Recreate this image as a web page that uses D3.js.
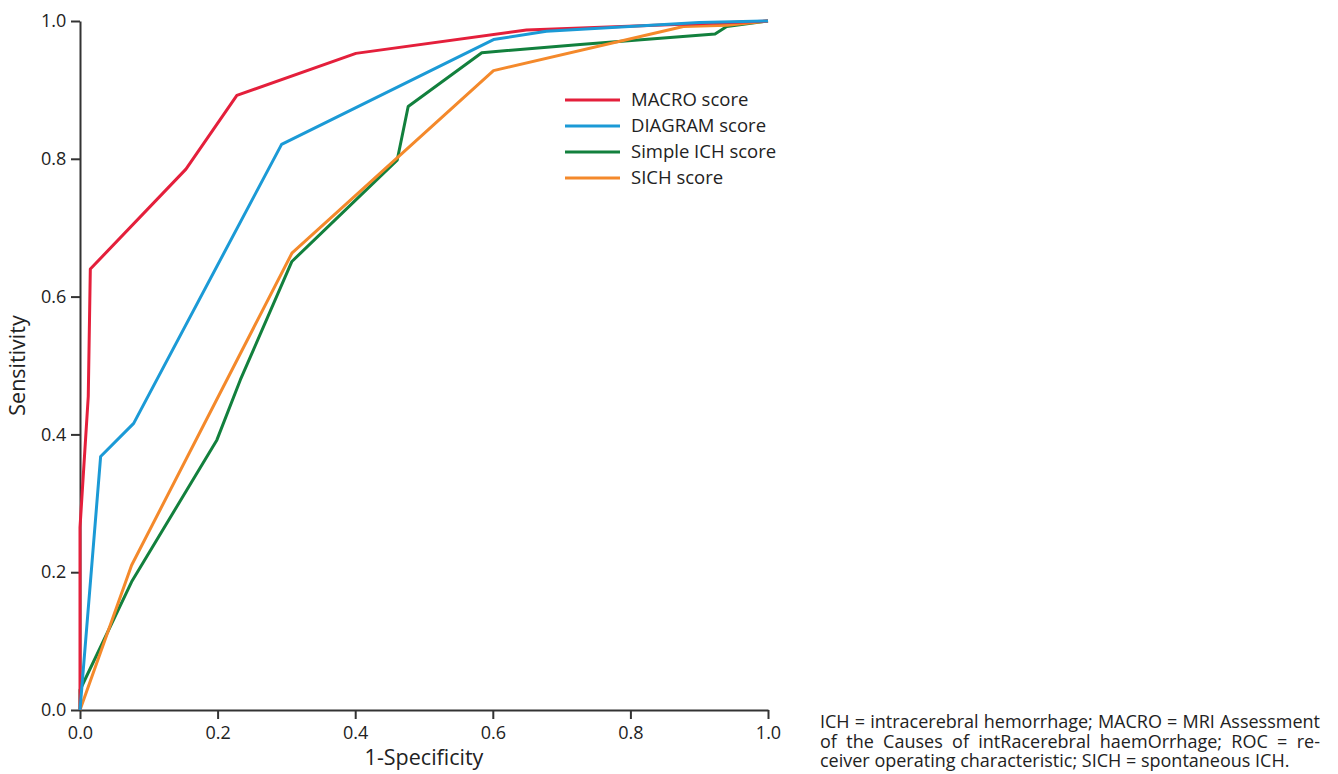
<!DOCTYPE html>
<html lang="en">
<head>
    <meta charset="UTF-8">
    <title>ROC curves</title>
    <script src="https://d3js.org/d3.v7.min.js"></script>
    <style>
        body {
            margin: 0;
            background: #fff;
            font-family: 'Open Sans', sans-serif;
        }

        .axis path,
        .axis line {
            stroke: #333;
            stroke-width: 2px;
        }

        .axis text {
            font-family: 'Open Sans', sans-serif;
            font-size: 18px;
            fill: #222;
        }

        .curve {
            fill: none;
            stroke-width: 3px;
            stroke-linejoin: round;
        }
    </style>
</head>
<body>
    <svg width="1338" height="774" id="chart"></svg>

    <script>
        // ROC points: [1-specificity, sensitivity]
        const macro = [[0, 0], [0, 0.265], [0.012, 0.455], [0.015, 0.64], [0.154, 0.785], [0.228, 0.892],
            [0.401, 0.953], [0.649, 0.987], [1, 1]];
        const diagram = [[0, 0], [0.030, 0.368], [0.078, 0.416], [0.293, 0.821], [0.601, 0.973],
            [0.678, 0.985], [0.9, 0.998], [1, 1]];
        const simpleIch = [[0, 0], [0, 0.029], [0.075, 0.186], [0.199, 0.392], [0.233, 0.479], [0.308, 0.651],
            [0.461, 0.798], [0.477, 0.876], [0.584, 0.954], [0.727, 0.966], [0.923, 0.981], [0.94, 0.992], [1, 1]];
        const sich = [[0, 0], [0.075, 0.210], [0.308, 0.663], [0.601, 0.928], [0.877, 0.992], [0.94, 0.994], [1, 1]];

        const seriesNames = ["MACRO score", "DIAGRAM score", "Simple ICH score", "SICH score"];
        const seriesData = [macro, diagram, simpleIch, sich];
        const seriesColors = ["#e41f3b", "#1b9ad6", "#12803d", "#f4892b"];
        const drawOrder = [2, 3, 0, 1];

        const tickValues = [0, 0.2, 0.4, 0.6, 0.8, 1.0];
        const xTitle = "1-Specificity";
        const yTitle = "Sensitivity";
        const captionLines = [
            "ICH = intracerebral hemorrhage; MACRO = MRI Assessment",
            "of the Causes of intRacerebral haemOrrhage; ROC = re-",
            "ceiver operating characteristic; SICH = spontaneous ICH."
        ];

        const svg = d3.select("#chart");
        const x = d3.scaleLinear().domain([0, 1]).range([80, 768]);
        const y = d3.scaleLinear().domain([0, 1]).range([710, 21]);

        // axes
        svg.append("g")
            .attr("class", "axis")
            .attr("transform", "translate(0,710)")
            .call(d3.axisBottom(x).tickValues(tickValues).tickFormat(d3.format(".1f")).tickSize(9).tickSizeOuter(0))
            .selectAll("text").attr("dy", "0.95em");

        svg.append("g")
            .attr("class", "axis")
            .attr("transform", "translate(80,0)")
            .call(d3.axisLeft(y).tickValues(tickValues).tickFormat(d3.format(".1f")).tickSize(9).tickSizeOuter(0))
            .selectAll("text").attr("dx", "-0.1em");

        svg.append("text")
            .attr("x", x(0.5))
            .attr("y", 765)
            .attr("text-anchor", "middle")
            .style("font-size", "21.5px")
            .style("fill", "#222")
            .text(xTitle);

        svg.append("text")
            .attr("transform", `translate(25,${y(0.5)}) rotate(-90)`)
            .attr("text-anchor", "middle")
            .style("font-size", "21.5px")
            .style("fill", "#222")
            .text(yTitle);

        // curves
        const line = d3.line().x(d => x(d[0])).y(d => y(d[1]));
        drawOrder.forEach(i => {
            svg.append("path")
                .attr("class", "curve")
                .attr("d", line(seriesData[i]))
                .style("stroke", seriesColors[i]);
        });

        // legend
        const legend = svg.append("g").attr("transform", "translate(565,100)");
        seriesNames.forEach((name, i) => {
            const row = legend.append("g").attr("transform", `translate(0,${i * 26})`);
            row.append("line")
                .attr("x1", 0).attr("x2", 55)
                .style("stroke", seriesColors[i])
                .style("stroke-width", 3);
            row.append("text")
                .attr("x", 66)
                .attr("dy", "0.35em")
                .style("font-size", "18.5px")
                .style("fill", "#222")
                .text(name);
        });

        // caption, justified to the block width
        const capLeft = 820, capWidth = 500;
        captionLines.forEach((t, i) => {
            const txt = svg.append("text")
                .attr("x", capLeft)
                .attr("y", 728 + i * 19.5)
                .style("font-size", "18px")
                .style("fill", "#222")
                .text(t);
            if (i < captionLines.length - 1) {
                const w = txt.node().getComputedTextLength();
                const gaps = t.split(" ").length - 1;
                txt.style("word-spacing", ((capWidth - w) / gaps) + "px");
            }
        });
    </script>
</body>
</html>
